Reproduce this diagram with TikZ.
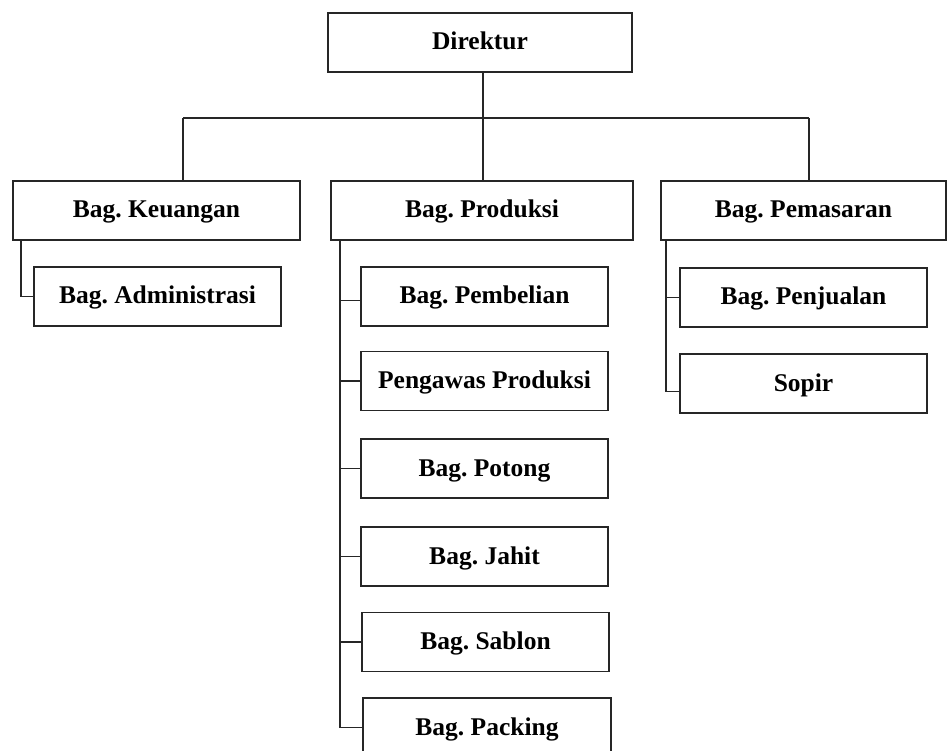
\documentclass[tikz,border=0pt]{standalone}
\usepackage{fontspec}
\setmainfont{Liberation Serif}
\usetikzlibrary{calc}
\frenchspacing
\tikzset{
  box/.style={draw=black!85, line width=1.7pt, fill=white, inner sep=0pt,
    minimum height=59pt, text height=17pt, text depth=2pt,
    font=\bfseries\fontsize{25.5}{30}\selectfont},
  conn/.style={draw=black!85, line width=1.5pt}
}
\begin{document}
\begin{tikzpicture}[x=1pt,y=-1pt]
\useasboundingbox (0,0) rectangle (948,751);
\clip (0,0) rectangle (948,751);
\fill[white] (0,0) rectangle (948,751);
% coordinates for connector lines
\coordinate (bL) at (183,118);
\coordinate (bM) at (483,118);
\coordinate (bR) at (809,118);
\coordinate (kv) at (21,0);
\coordinate (pv) at (340,0);
\coordinate (mv) at (666,0);
% nodes
\node[box, minimum width=304pt] (dir) at (480,42.5) {Direktur};
\node[box, minimum width=287pt] (keu) at (156.5,210.5) {Bag. Keuangan};
\node[box, minimum width=247pt] (adm) at (157.5,296.5) {Bag. Administrasi};
\node[box, minimum width=302pt] (prod) at (482,210.5) {Bag. Produksi};
\node[box, minimum width=247pt] (pemb) at (484.5,296.5) {Bag. Pembelian};
\node[box, minimum width=247pt] (peng) at (484.5,381) {Pengawas Produksi};
\node[box, minimum width=247pt] (pot) at (484.5,468.5) {Bag. Potong};
\node[box, minimum width=247pt] (jah) at (484.5,556.5) {Bag. Jahit};
\node[box, minimum width=247pt] (sab) at (485.5,642) {Bag. Sablon};
\node[box, minimum width=248pt] (pack) at (487,727.5) {Bag. Packing};
\node[box, minimum width=285pt] (pem) at (803.5,210.5) {Bag. Pemasaran};
\node[box, minimum width=247pt] (penj) at (803.5,297.5) {Bag. Penjualan};
\node[box, minimum width=247pt] (sop) at (803.5,383.5) {Sopir};
% top level connectors
\draw[conn] (bM |- dir.south) -- (bM);
\draw[conn] (bL) -- (bR);
\draw[conn] (bL) -- (bL |- keu.north);
\draw[conn] (bM) -- (bM |- prod.north);
\draw[conn] (bR) -- (bR |- pem.north);
% Keuangan
\draw[conn] (kv |- keu.south) |- (adm.west);
% Produksi
\draw[conn] (pv |- prod.south) -- (pv |- pack.west);
\coordinate (pembw) at ($(pemb.west)+(0,4)$);
\draw[conn] (pv |- pembw) -- (pembw);
\foreach \n in {peng,pot,jah,sab,pack}
  \draw[conn] (pv |- \n.west) -- (\n.west);
% Pemasaran
\coordinate (sopw) at ($(sop.west)+(0,8)$);
\draw[conn] (mv |- pem.south) |- (sopw);
\draw[conn] (mv |- penj.west) -- (penj.west);
\end{tikzpicture}
\end{document}
